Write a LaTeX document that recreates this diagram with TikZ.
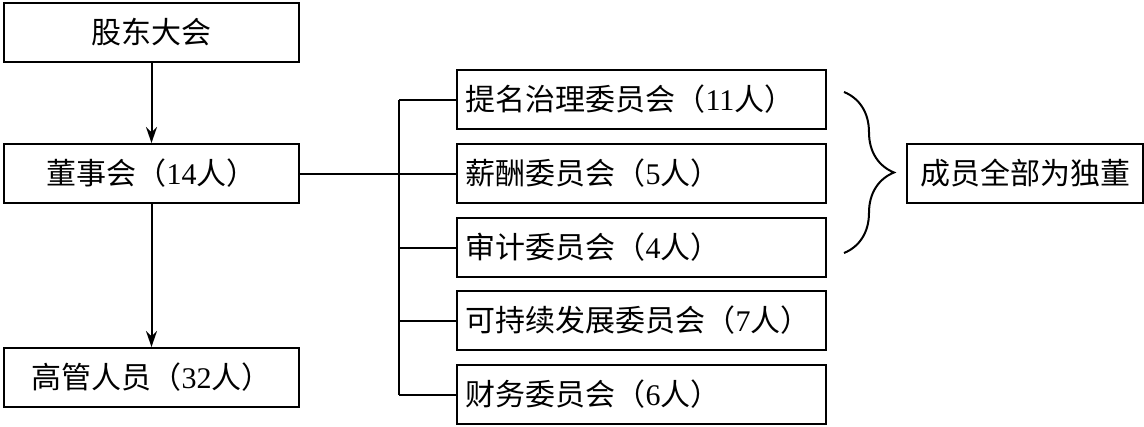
\documentclass[tikz,border=0pt]{standalone}
\usepackage{fontspec}
\setmainfont{Liberation Serif}
\newfontfamily\cjk{Noto Sans CJK SC}
\usetikzlibrary{arrows.meta,decorations.pathreplacing}
\begin{document}
\begin{tikzpicture}[x=1pt,y=-1pt,
  box/.style={draw,line width=2pt,minimum height=59pt,inner sep=0pt,font=\fontsize{30}{32}\selectfont},
  lbox/.style={box,minimum width=295pt,anchor=north west},
  rbox/.style={box,minimum width=369pt,anchor=north west,text width=352pt,align=left},
  conn/.style={line width=2pt},
  arr/.style={conn,-{Stealth[length=16pt,width=11pt]}}]
\useasboundingbox (0,0) rectangle (1144,426);
\node[lbox] (gd) at (3,2) {\cjk 股东大会};
\node[lbox] (ds) at (3,143) {{\cjk 董事会（}14{\cjk 人）}};
\node[lbox] (gg) at (3,347) {{\cjk 高管人员（}32{\cjk 人）}};
\node[rbox] (c1) at (456,69) {{\cjk 提名治理委员会（}11{\cjk 人）}};
\node[rbox] (c2) at (456,143) {{\cjk 薪酬委员会（}5{\cjk 人）}};
\node[rbox] (c3) at (456,217) {{\cjk 审计委员会（}4{\cjk 人）}};
\node[rbox] (c4) at (456,290) {{\cjk 可持续发展委员会（}7{\cjk 人）}};
\node[rbox] (c5) at (456,364) {{\cjk 财务委员会（}6{\cjk 人）}};
\node[box,minimum width=236pt,anchor=north west] (dd) at (906,143) {\cjk 成员全部为独董};
\coordinate (tr) at (399,0);
\draw[arr] (gd.south) -- (ds.north);
\draw[arr] (ds.south) -- (gg.north);
\draw[conn] (ds.east) -- (ds.east -| tr);
\draw[conn] (c1.west -| tr) -- (c5.west -| tr);
\foreach \c in {c1,c2,c3,c4,c5} \draw[conn] (\c.west -| tr) -- (\c.west);
\coordinate (bt) at (844,92);
\coordinate (bb) at (844,253);
\draw[conn,decorate,decoration={brace,amplitude=50pt,aspect=0.5}] (bt) -- (bb);
\end{tikzpicture}
\end{document}
